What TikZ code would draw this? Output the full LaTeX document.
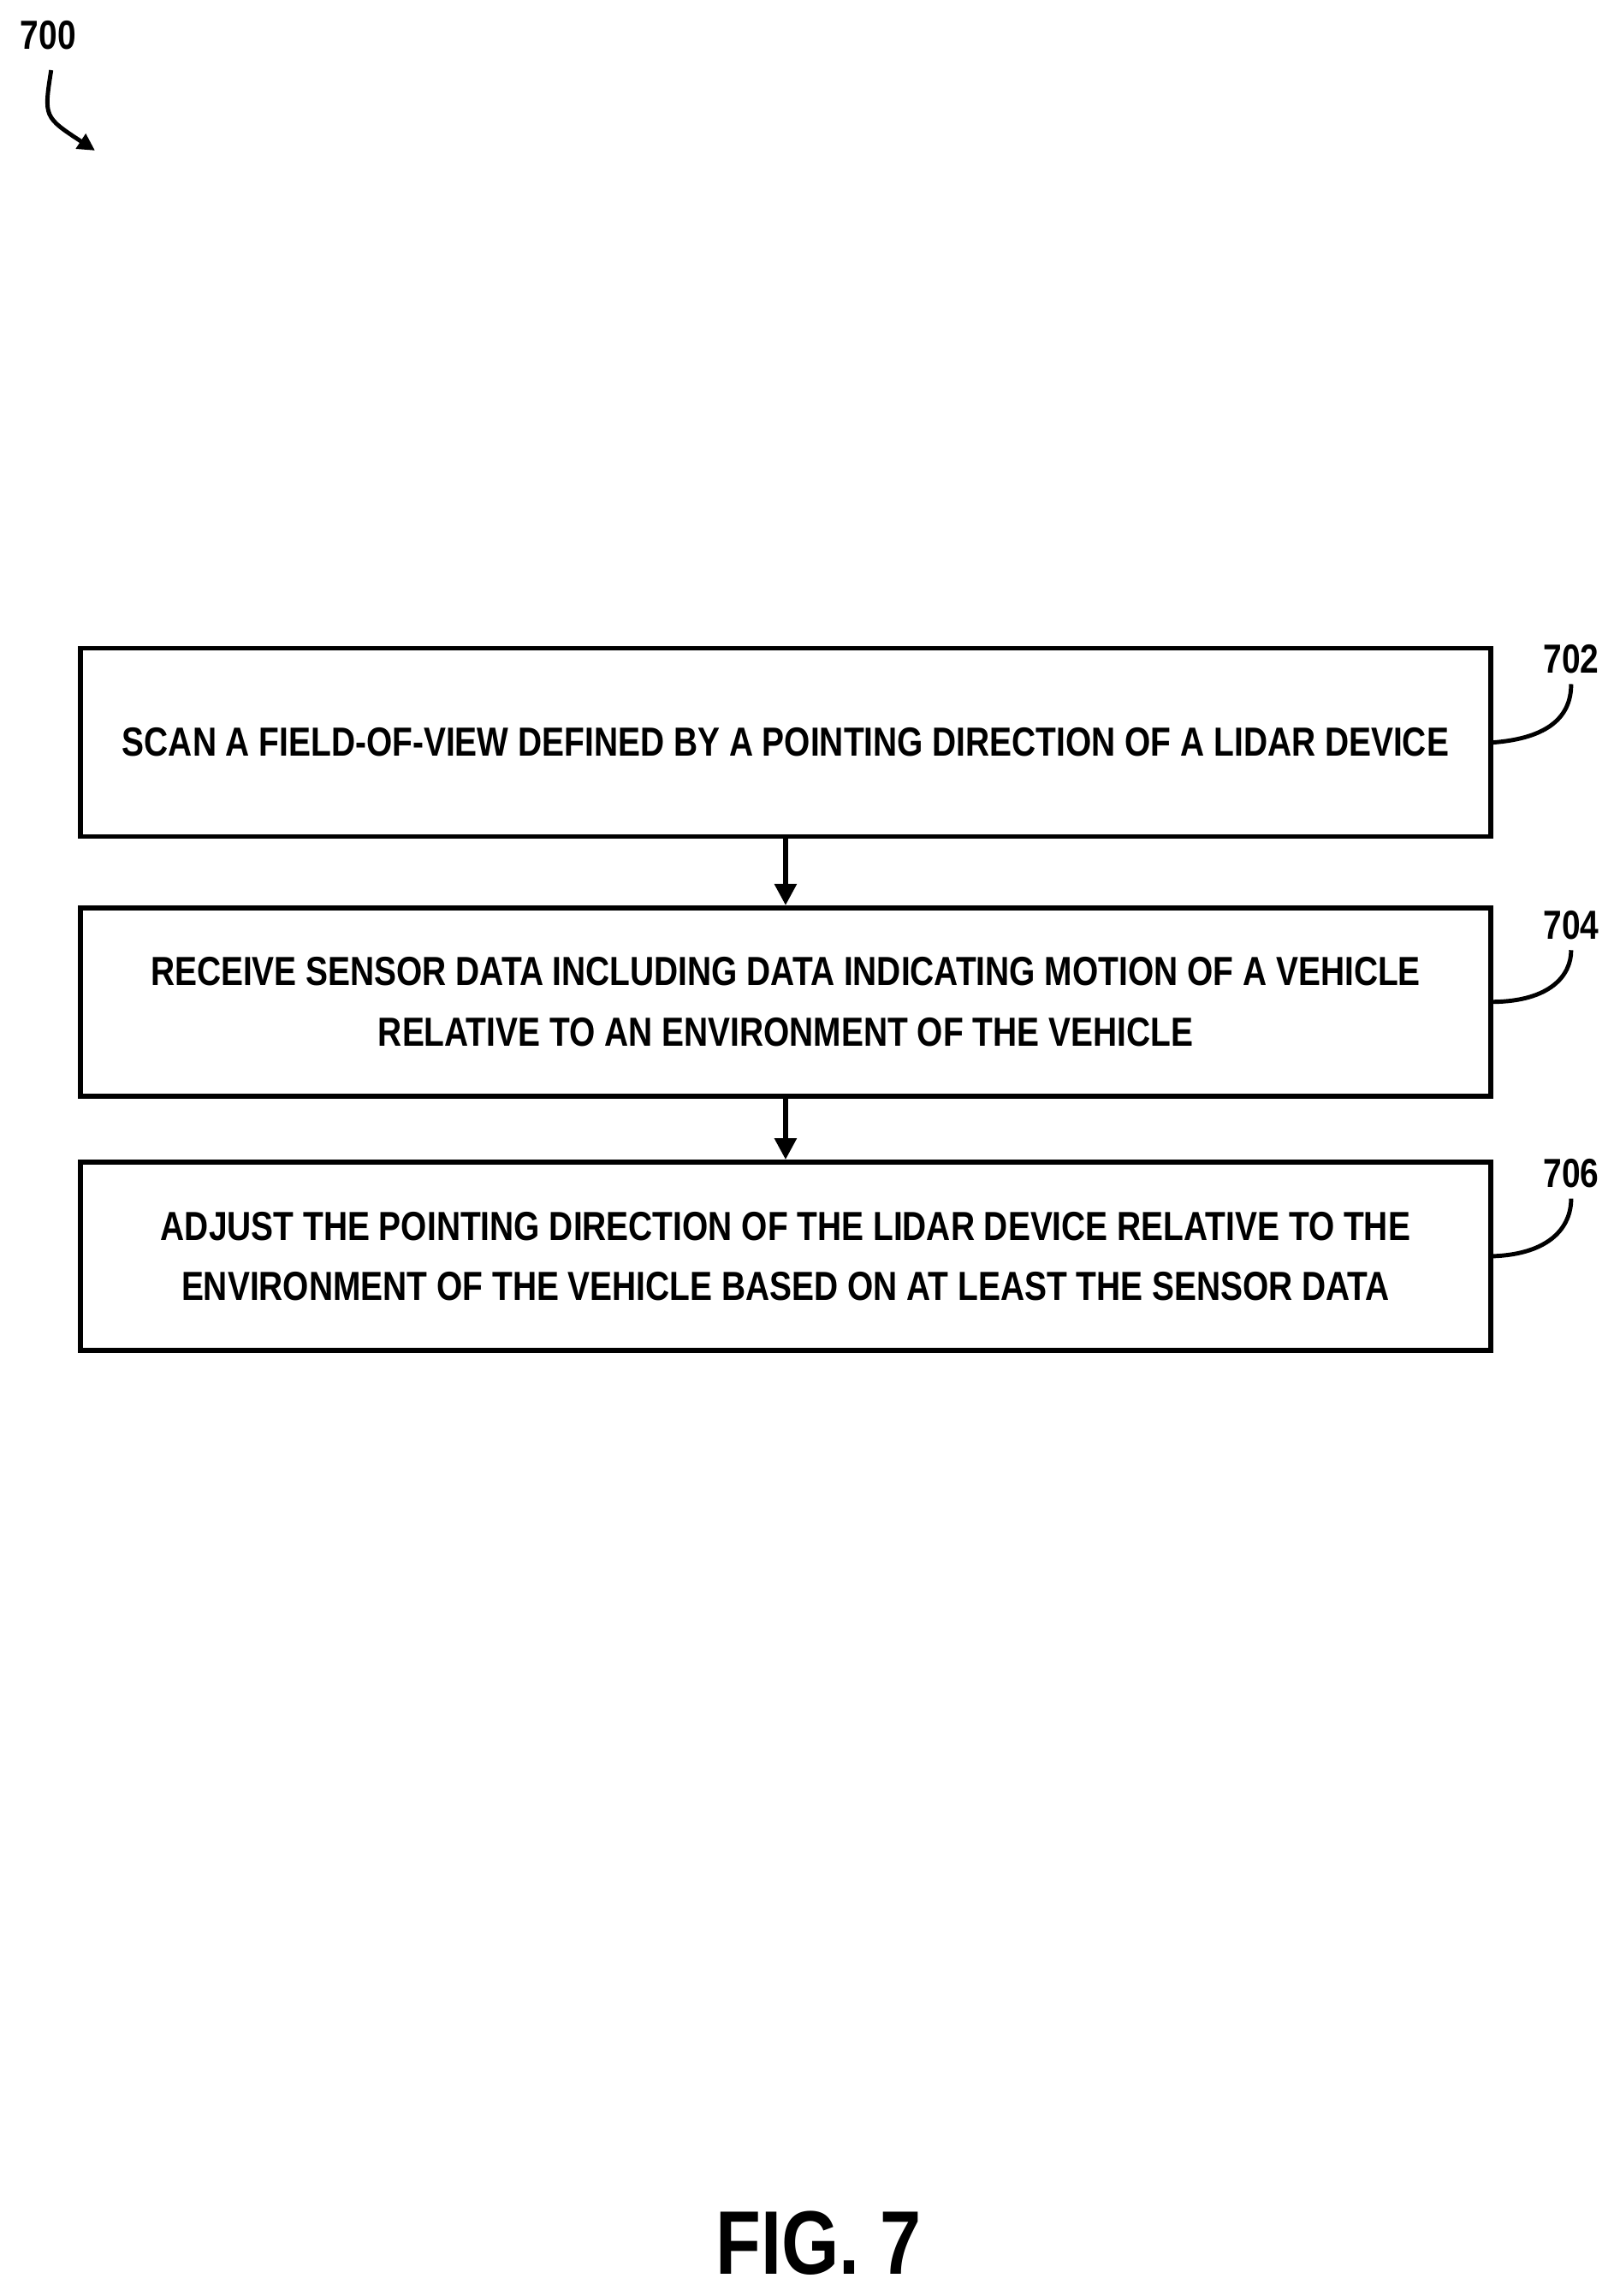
\documentclass[tikz,border=0pt]{standalone}
\usepackage{fontspec}
\setmainfont{Liberation Sans}[FakeStretch=0.82]
\usetikzlibrary{positioning,arrows.meta}
\tikzset{
  stepBox/.style={
    rectangle,
    draw=black,
    line width=1.6pt,
    minimum width=16.48cm,
    minimum height=2.2cm,
    align=center,
    font=\fontsize{13.5}{20}\selectfont\bfseries
 },
  arrowLine/.style={
    -{Triangle[length=2.5mm,width=2.5mm]},
    line width=1.6pt
 },
  refLine/.style={
    line width=1.4pt
 },
  refLabel/.style={
    font=\fontsize{13.5}{16}\selectfont\bfseries
 }
}
\begin{document}
\begin{tikzpicture}[x=0.01708cm,y=-0.01708cm]
  \useasboundingbox (0,0) rectangle (1108,1571);

  \node[refLabel] (fig) at (33,24) {700};
  \coordinate (figArrow) at (65,103);
  \draw[refLine,-{Triangle[length=2mm,width=2mm]}] (35,48) .. controls (30,80) .. (figArrow);

  \node[stepBox] (scan) at (537.5,508) {SCAN A FIELD-OF-VIEW DEFINED BY A POINTING DIRECTION OF A LIDAR DEVICE};
  \node[stepBox] (receive) at (537.5,685.5) {RECEIVE SENSOR DATA INCLUDING DATA INDICATING MOTION OF A VEHICLE\\RELATIVE TO AN ENVIRONMENT OF THE VEHICLE};
  \node[stepBox] (adjust) at (537.5,859.5) {ADJUST THE POINTING DIRECTION OF THE LIDAR DEVICE RELATIVE TO THE\\ENVIRONMENT OF THE VEHICLE BASED ON AT LEAST THE SENSOR DATA};

  \draw[arrowLine] (scan) -- (receive);
  \draw[arrowLine] (receive) -- (adjust);

  % reference numerals
  \node[refLabel] (n702) at (1075,451) {702};
  \node[refLabel] (n704) at (1075,633) {704};
  \node[refLabel] (n706) at (1075,803) {706};
  \draw[refLine] (scan.east) .. controls (1060,505) and (1075,490) .. (n702.south);
  \draw[refLine] (receive.east) .. controls (1060,685) and (1075,668) .. (n704.south);
  \draw[refLine] (adjust.east) .. controls (1060,858) and (1075,840) .. (n706.south);

  \node[font=\fontsize{30}{34}\selectfont\bfseries] (caption) at (560,1535) {FIG. 7};
\end{tikzpicture}
\end{document}
